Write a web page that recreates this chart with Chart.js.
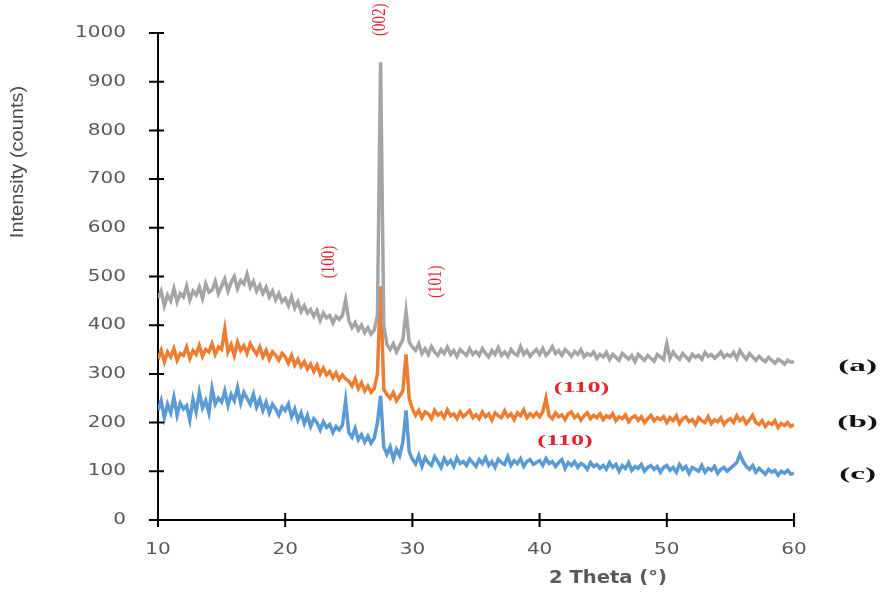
<!DOCTYPE html>
<html>
<head>
<meta charset="utf-8">
<script src="https://cdn.jsdelivr.net/npm/chart.js@4.4.0/dist/chart.umd.min.js"></script>
<style>
  html, body { margin: 0; padding: 0; background: #fff; }
  #wrap { width: 890px; height: 592px; position: relative; }
</style>
</head>
<body>
<div id="wrap"><canvas id="xrd"></canvas></div>
<script>
// 2 theta grid, 0.25 deg steps from 10 to 60
const twoTheta = Array.from({ length: 201 }, (_, i) => 10 + i * 0.25);

// (a) grey
const seriesA = [
  455, 470, 440, 462, 450, 475, 448, 465, 458, 480, 452, 470, 462, 478, 455, 485, 468, 472, 490, 465,
  480, 495, 470, 488, 500, 475, 492, 485, 505, 478, 490, 470, 482, 465, 478, 458, 470, 452, 465, 448,
  455, 440, 458, 435, 448, 428, 440, 425, 432, 418, 430, 410, 425, 415, 420, 405, 418, 412, 420, 452,
  410, 395, 405, 390, 400, 385, 395, 382, 390, 420, 940, 400, 360, 350, 362, 345, 358, 370, 428, 365,
  355, 348, 362, 342, 352, 340, 356, 345, 338, 350, 342, 355, 340, 348, 336, 350, 344, 338, 352, 340,
  346, 338, 352, 342, 335, 348, 340, 354, 338, 345, 336, 350, 342, 338, 356, 340, 348, 336, 344, 350,
  340, 352, 338, 345, 356, 342, 348, 338, 350, 344, 336, 346, 340, 350, 335, 342, 338, 345, 332, 340,
  335, 344, 330, 340, 334, 328, 342, 336, 330, 338, 325, 340, 334, 328, 338, 332, 326, 340, 335, 330,
  362, 332, 345, 336, 330, 342, 335, 328, 340, 334, 338, 330, 344, 336, 340, 332, 338, 345, 334, 340,
  336, 344, 332, 348, 338, 330, 342, 335, 328, 336, 330, 325, 334, 328, 322, 330, 326, 320, 328, 324,
  325
];

// (b) orange
const seriesB = [
  330, 348, 325, 345, 335, 352, 328, 342, 338, 355, 332, 348, 340, 358, 336, 350, 345, 362, 340, 355,
  350, 392, 345, 360, 338, 365, 348, 358, 342, 362, 350, 340, 355, 335, 348, 330, 345, 338, 328, 342,
  335, 322, 338, 318, 330, 315, 325, 310, 320, 305, 318, 300, 312, 298, 305, 292, 302, 288, 298, 290,
  285, 275, 290, 270, 282, 265, 275, 262, 270, 300, 480, 268, 258, 250, 262, 245, 255, 265, 340, 250,
  228, 215, 225, 210, 222, 218, 208, 225, 215, 220, 210, 226, 214, 218, 208, 222, 212, 218, 225, 210,
  216, 208, 222, 212, 218, 205, 220, 214, 210, 224, 212, 218, 206, 220, 214, 226, 210, 218, 212, 220,
  212, 222, 250, 214, 208, 220, 212, 216, 206, 218, 222, 210, 216, 205, 214, 220, 208, 215, 210, 218,
  206, 214, 210, 218, 204, 212, 208, 216, 202, 210, 214, 205, 212, 200, 208, 215, 204, 210, 206, 212,
  200, 210, 204, 214, 198, 208, 212, 202, 206, 196, 210, 204, 200, 212, 198, 206, 202, 210, 196, 204,
  208, 200, 214, 204, 210, 198, 206, 215, 200, 196, 204, 192, 200, 196, 204, 190, 198, 194, 200, 192,
  196
];

// (c) blue
const seriesC = [
  225, 245, 210, 238, 220, 252, 215, 240, 228, 235, 205, 248, 222, 262, 230, 245, 220, 270, 238, 250,
  242, 265, 235, 258, 245, 272, 240, 262, 250, 238, 258, 232, 248, 225, 242, 220, 238, 228, 215, 232,
  225, 238, 212, 228, 205, 220, 198, 215, 192, 208, 200, 185, 202, 190, 196, 180, 192, 185, 195, 245,
  180, 170, 188, 165, 175, 160, 172, 158, 168, 200, 255, 150, 135, 150, 125, 145, 132, 160, 225, 140,
  125, 115, 132, 110, 128, 118, 112, 130, 120, 108, 126, 115, 122, 110, 128, 116, 120, 112, 125, 118,
  110, 124, 116, 128, 112, 120, 108, 125, 118, 114, 130, 112, 122, 116, 126, 110, 120, 124, 114, 118,
  122, 112, 126, 116, 120, 110, 118, 124, 106, 118, 112, 120, 108, 116, 112, 104, 118, 110, 114, 106,
  112, 104, 118, 108, 114, 100, 112, 106, 118, 102, 110, 106, 114, 100, 108, 112, 104, 110, 98, 108,
  112, 102, 108, 98, 114, 104, 110, 96, 108, 104, 100, 112, 98, 106, 102, 110, 96, 104, 108, 100,
  106, 112, 118, 135, 120, 110, 104, 112, 98, 106, 100, 94, 104, 98, 102, 92, 100, 96, 102, 94,
  96
];

const xTicks = [10, 20, 30, 40, 50, 60];
const yTicks = [0, 100, 200, 300, 400, 500, 600, 700, 800, 900, 1000];

// peak labels (2theta, intensity at label centre)
const peakLabels = ['(002)', '(100)', '(101)', '(110)', '(110)'];
const peakPos = [[27.5, 1027], [23.5, 530], [31.85, 489], [43.3, 271], [42.0, 162]];
const peakVertical = [true, true, true, false, false];

const sampleLabels = ['(a)', '(b)', '(c)'];
const samplePos = [[65.0, 314], [65.0, 199], [65.0, 94]];

function toPoints(vals) {
  return vals.map((v, i) => ({ x: twoTheta[i], y: v }));
}

function drawStretched(ctx, text, px, py, sx, angle, align) {
  ctx.save();
  ctx.translate(px, py);
  ctx.scale(sx, 1);
  ctx.rotate(angle);
  ctx.textAlign = align;
  ctx.textBaseline = 'middle';
  ctx.fillText(text, 0, 0);
  ctx.restore();
}

const xrdText = {
  id: 'xrdText',
  afterDraw(chart) {
    const ctx = chart.ctx;
    const x = chart.scales.x, y = chart.scales.y;
    ctx.save();

    // tick marks crossing the axes
    ctx.strokeStyle = '#000';
    ctx.lineWidth = 2;
    ctx.beginPath();
    yTicks.forEach(v => {
      const py = y.getPixelForValue(v);
      ctx.moveTo(x.left - 9, py);
      ctx.lineTo(x.left + 6, py);
    });
    xTicks.forEach(v => {
      const px = x.getPixelForValue(v);
      ctx.moveTo(px, y.bottom - 7);
      ctx.lineTo(px, y.bottom + 7);
    });
    ctx.moveTo(x.left - 9, y.bottom);
    ctx.lineTo(x.left, y.bottom);
    ctx.stroke();

    // tick labels
    ctx.fillStyle = '#595959';
    ctx.font = '16px "DejaVu Sans"';
    yTicks.forEach(v => {
      drawStretched(ctx, String(v), x.left - 32, y.getPixelForValue(v), 1.25, 0, 'right');
    });
    xTicks.forEach(v => {
      drawStretched(ctx, String(v), x.getPixelForValue(v), y.bottom + 30, 1.25, 0, 'center');
    });

    // axis titles
    ctx.fillStyle = '#4a4a4a';
    ctx.font = '20px "Liberation Sans Narrow", "Liberation Sans"';
    drawStretched(ctx, 'Intensity (counts)', 18, 162, 0.95, -Math.PI / 2, 'center');
    ctx.fillStyle = '#595959';
    ctx.font = 'bold 17px "DejaVu Sans"';
    drawStretched(ctx, '2 Theta (\u00b0)', 608, 579, 1.15, 0, 'center');

    // peak labels
    ctx.fillStyle = '#e3262f';
    peakLabels.forEach((t, i) => {
      const px = x.getPixelForValue(peakPos[i][0]);
      const py = y.getPixelForValue(peakPos[i][1]);
      if (peakVertical[i]) {
        ctx.font = '15px "Liberation Serif"';
        drawStretched(ctx, t, px, py, 1.2, -Math.PI / 2, 'center');
      } else {
        ctx.font = 'bold 15px "Liberation Serif"';
        drawStretched(ctx, t, px, py, 1.75, 0, 'center');
      }
    });

    // sample labels
    ctx.fillStyle = '#111';
    ctx.font = 'bold 17px "Liberation Serif"';
    sampleLabels.forEach((t, i) => {
      drawStretched(ctx, t, x.getPixelForValue(samplePos[i][0]), y.getPixelForValue(samplePos[i][1]), 1.95, 0, 'center');
    });

    ctx.restore();
  }
};

new Chart(document.getElementById('xrd'), {
  type: 'line',
  data: {
    datasets: [
      { label: '(a)', data: toPoints(seriesA), borderColor: '#a5a5a5', order: 0 },
      { label: '(b)', data: toPoints(seriesB), borderColor: '#ed7d31', order: 1 },
      { label: '(c)', data: toPoints(seriesC), borderColor: '#5b9bd5', order: 2 }
    ]
  },
  options: {
    responsive: true,
    maintainAspectRatio: false,
    animation: false,
    devicePixelRatio: 1,
    layout: { padding: { top: 33, right: 96, left: 0, bottom: 0 } },
    elements: {
      line: { borderWidth: 3.5, tension: 0 },
      point: { radius: 0 }
    },
    plugins: { legend: { display: false }, tooltip: { enabled: false } },
    scales: {
      x: {
        type: 'linear', min: 10, max: 60,
        ticks: { display: false, stepSize: 10 },
        grid: { display: false },
        border: { display: true, color: '#000', width: 2 },
        afterFit: s => { s.height = 72; }
      },
      y: {
        min: 0, max: 1000,
        ticks: { display: false, stepSize: 100 },
        grid: { display: false },
        border: { display: true, color: '#000', width: 2 },
        afterFit: s => { s.width = 158; }
      }
    }
  },
  plugins: [xrdText]
});
</script>
</body>
</html>
